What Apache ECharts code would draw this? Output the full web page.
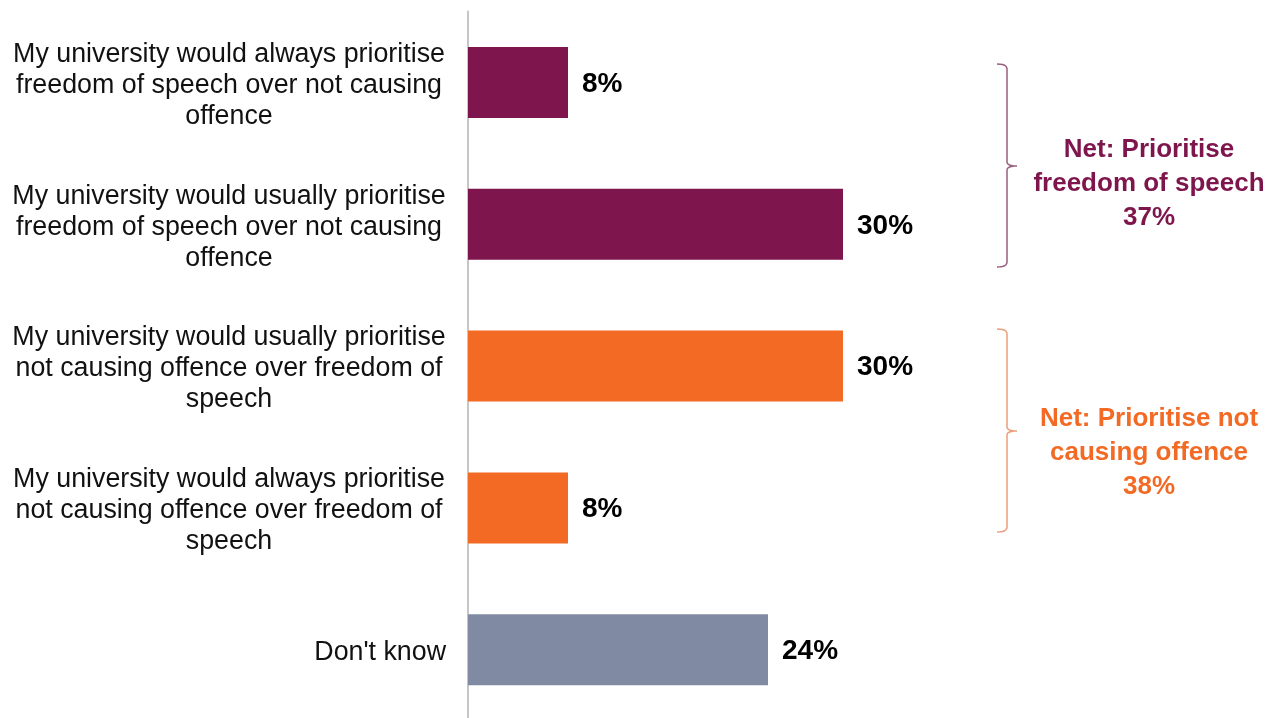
<!DOCTYPE html>
<html>
<head>
<meta charset="utf-8">
<title>University priorities: freedom of speech vs not causing offence</title>
<script src="https://cdn.jsdelivr.net/npm/echarts@6/dist/echarts.min.js"></script>
<style>
  html, body { margin: 0; padding: 0; background: #ffffff; }
  #chart { width: 1278px; height: 718px; }
</style>
</head>
<body>
<div id="chart"></div>
<script>
// Survey responses
const categories = [
  'My university would always prioritise\nfreedom of speech over not causing\noffence',
  'My university would usually prioritise\nfreedom of speech over not causing\noffence',
  'My university would usually prioritise\nnot causing offence over freedom of\nspeech',
  'My university would always prioritise\nnot causing offence over freedom of\nspeech',
  "Don't know"
];
const values = [8, 30, 30, 8, 24];

// Net groupings shown beside the bars
const netLabels = ['Net: Prioritise\nfreedom of speech', 'Net: Prioritise not\ncausing offence'];
const netValues = [37, 38];

// Styling
const FONT = '"Liberation Sans", Arial, Helvetica, sans-serif';
const PURPLE = '#7E164D';
const ORANGE = '#F26A24';
const GREY = '#808BA3';
const barColors = [PURPLE, PURPLE, ORANGE, ORANGE, GREY];
const netColors = [PURPLE, ORANGE];
const braceColors = ['#98607F', '#EC9E7C'];

const chart = echarts.init(document.getElementById('chart'), null, { renderer: 'canvas' });

// Quadratic curve sampled into points
function quad(p0, c, p1, n) {
  const pts = [];
  for (let k = 1; k <= n; k++) {
    const t = k / n, u = 1 - t;
    pts.push([u * u * p0[0] + 2 * u * t * c[0] + t * t * p1[0],
              u * u * p0[1] + 2 * u * t * c[1] + t * t * p1[1]]);
  }
  return pts;
}

// Right-facing curly brace "}" with its tip at midY
function bracePoints(x, top, bottom, midY) {
  const l = x - 10, r = x + 10;
  let pts = [[l, top]];
  pts = pts.concat(quad([l, top], [x, top], [x, top + 5], 6));
  pts.push([x, midY - 4]);
  pts = pts.concat(quad([x, midY - 4], [x, midY], [r, midY], 6));
  pts = pts.concat(quad([r, midY], [x, midY], [x, midY + 4], 6));
  pts.push([x, bottom - 5]);
  pts = pts.concat(quad([x, bottom - 5], [x, bottom], [l, bottom], 6));
  return pts;
}

const braces = [
  { top: 64, bottom: 267, mid: 166, textY: 184 },
  { top: 329, bottom: 532, mid: 431, textY: 453 }
];

const graphics = [];
braces.forEach(function (b, i) {
  graphics.push({
    type: 'polyline',
    shape: { points: bracePoints(1007, b.top, b.bottom, b.mid) },
    style: { fill: null, stroke: braceColors[i], lineWidth: 1.5 },
    silent: true
  });
  graphics.push({
    type: 'text',
    x: 1149,
    y: b.textY,
    style: {
      text: netLabels[i] + '\n' + netValues[i] + '%',
      fill: netColors[i],
      font: 'bold 26px ' + FONT,
      lineHeight: 34,
      align: 'center',
      verticalAlign: 'middle'
    },
    silent: true
  });
});

chart.setOption({
  animation: false,
  grid: { left: 468, top: 11.6, width: 800, height: 709, containLabel: false, outerBoundsMode: 'none' },
  xAxis: {
    type: 'value',
    min: 0,
    max: 64,
    show: false
  },
  yAxis: {
    type: 'category',
    inverse: true,
    data: categories,
    offset: 1,
    axisLine: { show: true, lineStyle: { color: '#C6C6C6', width: 2 } },
    axisTick: { show: false },
    splitLine: { show: false },
    axisLabel: {
      margin: 238,
      align: 'center',
      padding: [6, 0, 0, 0],
      formatter: function (v) {
        return v === "Don't know" ? '{r|' + v + '}' : '{c|' + v + '}';
      },
      rich: {
        c: { fontFamily: FONT, fontSize: 26.8, lineHeight: 31, color: '#111111', align: 'center' },
        r: { fontFamily: FONT, fontSize: 26.8, lineHeight: 31, color: '#111111', align: 'right', width: 434 }
      }
    }
  },
  series: [{
    type: 'bar',
    barWidth: 71,
    data: values.map(function (v, i) {
      return { value: v, itemStyle: { color: barColors[i] } };
    }),
    label: {
      show: true,
      position: 'right',
      distance: 14,
      offset: [0, 1.5],
      formatter: '{c}%',
      fontFamily: FONT,
      fontSize: 28,
      fontWeight: 'bold',
      color: '#000000'
    }
  }],
  graphic: graphics
});
</script>
</body>
</html>
